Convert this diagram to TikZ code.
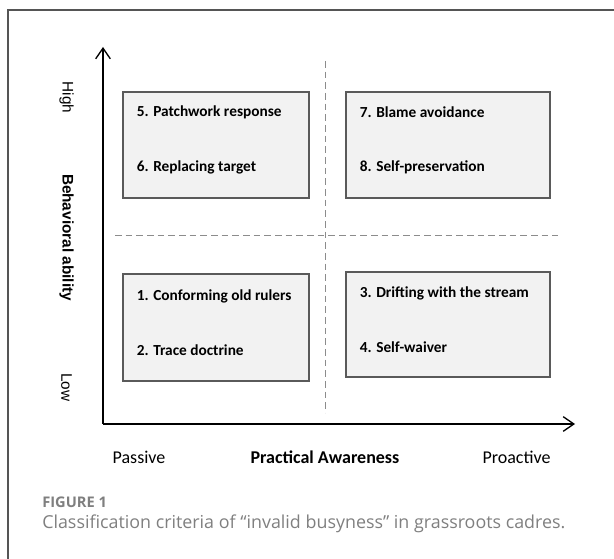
\documentclass[tikz,border=0pt]{standalone}
\usepackage{fontspec}
\setmainfont{Carlito}
\newfontfamily\axisfont{Liberation Sans}
\newfontfamily\capfont{Open Sans}
\usepackage{xcolor}
\usetikzlibrary{arrows.meta}
\definecolor{frame}{HTML}{555555}
\definecolor{boxfill}{HTML}{F2F2F2}
\definecolor{boxline}{HTML}{5A5A5A}
\definecolor{grid}{HTML}{8C8C8C}
\definecolor{capgray}{HTML}{7F7F7F}
\tikzset{
  axis/.style={draw=black, line width=1pt, -{Straight Barb[length=8pt,width=11pt]}},
  quad/.style={draw=boxline, fill=boxfill, line width=0.8pt},
  divider/.style={draw=grid, line width=0.75pt, dash pattern=on 5pt off 3pt},
  item/.style={anchor=west, inner sep=0pt, font=\fontsize{11.5}{13}\selectfont\bfseries},
  ylab/.style={rotate=-90, inner sep=0pt, font=\axisfont\fontsize{11.5}{13}\selectfont},
  xlab/.style={inner sep=0pt, font=\fontsize{13.5}{15}\selectfont}
}

\begin{document}
\begin{tikzpicture}[x=0.75pt, y=-0.75pt]
  \useasboundingbox (0,0) rectangle (614,559);
  \draw[frame, line width=0.9pt] (8,559) -- (8,10) -- (614,10);

  \coordinate (O) at (103,424);
  \coordinate (ytop) at (103,47);
  \coordinate (xend) at (575,424);

  % quadrant boxes
  \draw[quad] (123,92) rectangle (309,198);
  \draw[quad] (346,92) rectangle (550,198);
  \draw[quad] (123,274) rectangle (309,381);
  \draw[quad] (346,272) rectangle (550,377);

  % dashed dividers
  \draw[divider] (325,61) -- (325,413);
  \draw[divider] (115,236) -- (558,236);

  \draw[axis] (O) -- (ytop);
  \draw[axis] (O) -- (xend);

  \node[item] (t5) at (136.5,112.5) {5. Patchwork response};
  \node[item] (t6) at (136.5,167) {6. Replacing target};
  \node[item] (t7) at (359.5,112.5) {7. Blame avoidance};
  \node[item] (t8) at (359.5,167) {8. Self-preservation};
  \node[item] (t1) at (136.5,296) {1. Conforming old rulers};
  \node[item] (t2) at (136.5,350) {2. Trace doctrine};
  \node[item] (t3) at (359.5,293) {3. Drifting with the stream};
  \node[item] (t4) at (359.5,347) {4. Self-waiver};

  \node[ylab] (high) at (66.5,97.5) {High};
  \node[ylab, font=\axisfont\fontsize{11.5}{13}\selectfont\bfseries] (yname) at (66.5,237.5) {Behavioral ability};
  \node[ylab] (low) at (66.5,387.5) {Low};

  \node[xlab] (passive) at (139,457) {Passive};
  \node[xlab, font=\fontsize{13.5}{15}\selectfont\bfseries] (xname) at (325,457) {Practical Awareness};
  \node[xlab] (proactive) at (516.5,457) {Proactive};

  % caption
  \node[anchor=west, inner sep=0pt, text=capgray, font=\capfont\fontsize{11}{12}\selectfont\bfseries] (fig) at (42,502) {FIGURE 1};
  \node[anchor=west, inner sep=0pt, text=capgray, font=\capfont\fontsize{13.4}{15}\selectfont] (cap) at (42,524) {Classification criteria of “invalid busyness” in grassroots cadres.};
\end{tikzpicture}
\end{document}
